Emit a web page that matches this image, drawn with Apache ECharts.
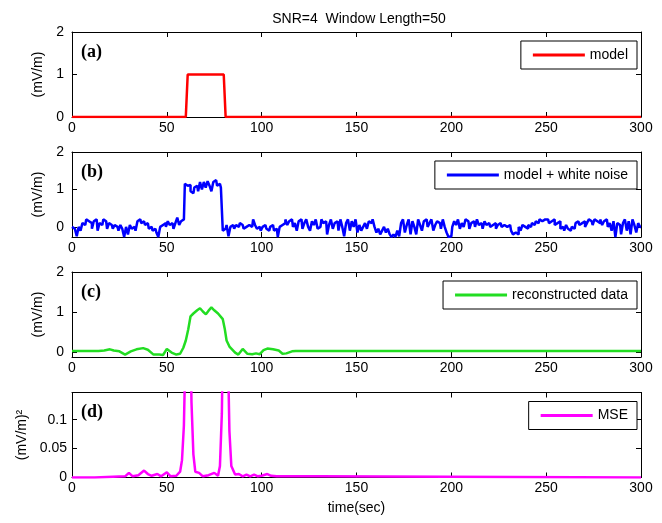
<!DOCTYPE html>
<html><head><meta charset="utf-8">
<script src="https://cdn.jsdelivr.net/npm/echarts@6/dist/echarts.min.js"></script>
<style>html,body{margin:0;padding:0;background:#fff}#c{width:662px;height:523px}</style>
</head><body><div id="c"></div>
<script>
// ---- data ----
const titleText = 'SNR=4  Window Length=50';
const xTicks = [0, 50, 100, 150, 200, 250, 300];
const panelLabels = ['(a)', '(b)', '(c)', '(d)'];
const seriesNames = ['model', 'model + white noise', 'reconstructed data', 'MSE'];

const modelT = [0, 60, 61, 80, 81, 300];
const modelV = [0, 0, 1, 1, 0, 0];

// model + white noise, one sample per second, t = 0..300
const noisyV = [
  0.0, -0.05, 0.0, -0.25, 0.0, -0.1, 0.1, 0.05, 0.2, 0.15,
  0.1, -0.05, 0.15, 0.2, -0.1, 0.1, 0.05, 0.2, 0.15, -0.05,
  0.1, 0.05, -0.05, 0.05, 0.0, -0.1, 0.05, -0.05, -0.27, 0.0,
  -0.2, 0.05, -0.05, 0.0, -0.1, 0.15, 0.2, 0.1, 0.15, 0.05,
  0.1, -0.05, 0.0, -0.1, -0.05, -0.15, -0.27, 0.0, 0.05, 0.1,
  0.0, 0.15, 0.05, 0.1, -0.05, 0.1, 0.25, 0.05, 0.15, 0.2,
  1.15, 1.1, 1.12, 0.95, 0.9, 1.05, 1.1, 0.95, 1.2, 1.0,
  1.2, 1.05, 1.22, 1.1, 0.95, 1.2, 1.25, 1.1, 1.15, 1.05,
  -0.1, -0.05, 0.05, -0.25, 0.0, 0.05, -0.05, 0.05, 0.0, 0.1,
  0.05, -0.05, 0.0, 0.05, 0.1, 0.0, 0.2, 0.05, -0.05, 0.0,
  -0.1, 0.0, 0.05, -0.05, -0.1, 0.0, 0.05, -0.1, -0.05, -0.27,
  0.0, 0.05, 0.1, 0.2, 0.05, 0.15, 0.2, 0.0, 0.1, -0.1,
  0.15, 0.2, -0.05, 0.1, 0.2, 0.0, -0.1, 0.15, 0.05, 0.2,
  -0.05, 0.0, 0.2, 0.1, 0.15, -0.2, 0.05, 0.2, -0.05, 0.1,
  0.15, -0.1, 0.2, 0.0, -0.25, 0.1, 0.2, -0.1, 0.15, 0.0,
  0.2, -0.15, 0.05, -0.1, 0.0, 0.1, -0.05, 0.15, 0.1, 0.2,
  0.0, -0.15, -0.05, -0.2, -0.1, 0.0, -0.15, -0.05, -0.2, -0.27,
  -0.2, -0.27, -0.1, -0.25, 0.1, 0.2, -0.15, 0.05, 0.2, -0.2,
  0.15, 0.0, -0.2, 0.2, 0.05, -0.1, 0.15, 0.2, 0.0, 0.1,
  0.2, -0.1, 0.05, 0.15, 0.1, -0.05, 0.2, 0.0, -0.15, -0.27,
  -0.25, 0.0, 0.15, 0.05, 0.2, -0.05, 0.1, 0.0, 0.2, 0.15,
  -0.05, 0.1, 0.15, 0.0, 0.2, 0.05, 0.1, -0.05, 0.15, 0.05,
  0.1, 0.0, 0.05, 0.1, -0.05, 0.05, 0.1, 0.0, 0.05, 0.0,
  -0.05, 0.05, -0.1, -0.2, -0.15, -0.2, 0.0, -0.1, 0.05, 0.0,
  -0.05, 0.05, 0.0, 0.1, 0.05, 0.15, 0.1, 0.2, 0.15, 0.2,
  0.15, 0.2, 0.1, 0.15, 0.2, 0.05, 0.1, 0.15, -0.05, 0.0,
  -0.1, 0.05, -0.05, -0.1, 0.0, -0.05, 0.1, 0.15, 0.05, 0.1,
  0.15, 0.0, 0.1, 0.2, 0.15, 0.05, 0.2, 0.15, 0.1, 0.2,
  0.05, 0.15, 0.2, 0.0, 0.1, -0.1, 0.15, -0.27, 0.1, 0.05,
  -0.2, 0.1, 0.2, -0.1, 0.15, -0.2, 0.2, 0.05, -0.15, 0.1, 0.0
];

const reconT = [0, 14, 15, 17, 20, 22, 25, 28, 31, 34, 37.5, 40, 43, 46, 48, 50, 52.5, 55, 57, 58.7,
  60, 61.3, 62.5, 64, 66, 67.5, 69, 70.6, 72, 73.5, 75, 77, 79.5, 80.5, 81.5, 83, 84, 86, 87.7,
  90, 92.5, 95, 97, 99, 101, 103, 106, 109, 111, 113, 116, 118, 300];
const reconV = [0.04, 0.04, 0.07, 0.05, 0.08, 0.05, 0.03, -0.05, 0.03, 0.08, 0.11, 0.07, -0.05, -0.05, -0.06, 0.09, 0.0, -0.05, -0.03, 0.12,
  0.3, 0.58, 0.9, 0.97, 1.05, 1.1, 1.02, 0.95, 1.04, 1.12, 1.05, 0.97, 0.83, 0.6, 0.3, 0.15, 0.1, 0.0, -0.05,
  0.09, -0.03, -0.04, -0.02, -0.04, 0.06, 0.1, 0.08, 0.05, -0.03, -0.02, 0.03, 0.04, 0.04];

const mseT = [0, 12, 12.5, 28, 30, 32, 35, 38, 40, 42, 45, 47, 50, 52, 55, 57, 58, 59, 60, 61, 62, 63, 64, 65,
  67, 69, 72, 75, 77, 78, 79, 80, 81, 82, 83, 84, 86, 88, 90, 92, 94, 96, 98, 100, 103, 105, 108, 130, 130.5, 300];
const mseV = [0, 0, 0.002, 0.002, 0.008, 0.002, 0.004, 0.012, 0.006, 0.003, 0.006, 0.002, 0.009, 0.002, 0.003, 0.01, 0.03, 0.09, 0.25, 0.45, 0.35, 0.13, 0.04, 0.01,
  0.008, 0.002, 0.004, 0.008, 0.003, 0.02, 0.11, 0.35, 0.45, 0.25, 0.08, 0.02, 0.005, 0.006, 0.002, 0.005, 0.002, 0.005, 0.002, 0.003, 0.006, 0.003, 0.002, 0.002, 0, 0];

const yRanges = [[0, 2], [-0.27, 2], [-0.11, 2], [0, 0.147]];
const yTicks = [[0, 1, 2], [0, 1, 2], [0, 1, 2], [0, 0.05, 0.1]];
const yNames = ['(mV/m)', '(mV/m)', '(mV/m)', '(mV/m)\u00B2'];
const colors = ['#ff0000', '#0000ff', '#22dd22', '#ff00ff'];

// ---- layout ----
const FONT = "'Liberation Sans', Arial, sans-serif";
const tops = [32, 152, 272, 392.5];
const H = 85;

const pairs = (xs, ys) => xs.map((x, i) => [x, ys[i]]);
const seriesData = [
  pairs(modelT, modelV),
  noisyV.map((v, i) => [i, v]),
  pairs(reconT, reconV),
  pairs(mseT, mseV)
];

const grids = [], xAxes = [], yAxes = [], series = [], legends = [], graphics = [];
tops.forEach((top, i) => {
  grids.push({ left: 72, right: 21, top: top, height: H });
  const axisLine = { show: true, onZero: false, lineStyle: { color: '#000', width: 1 } };
  const tick = { show: true, inside: true, length: 5, lineStyle: { color: '#000' } };
  xAxes.push({
    gridIndex: i, type: 'value', position: 'bottom', min: 0, max: 300, interval: 50,
    axisLine, axisTick: tick, splitLine: { show: false },
    axisLabel: { color: '#000', fontSize: 14, fontFamily: FONT, margin: 4, showMaxLabel: true, showMinLabel: true },
    name: i === 3 ? 'time(sec)' : '', nameLocation: 'middle', nameGap: 24,
    nameTextStyle: { color: '#000', fontSize: 14, fontFamily: FONT }
  });
  xAxes.push({
    gridIndex: i, type: 'value', position: 'top', min: 0, max: 300, interval: 50,
    axisLine, axisTick: tick, axisLabel: { show: false }, splitLine: { show: false }
  });
  yAxes.push({
    gridIndex: i, type: 'value', position: 'left', min: yRanges[i][0], max: yRanges[i][1],
    axisLine, axisTick: Object.assign({}, tick, { customValues: yTicks[i] }), splitLine: { show: false },
    axisLabel: { color: '#000', fontSize: 14, fontFamily: FONT, margin: i === 3 ? 5 : 8, customValues: yTicks[i] },
    name: yNames[i], nameLocation: 'middle', nameRotate: 90, nameGap: i === 3 ? 34 : 22,
    nameTextStyle: { color: '#000', fontSize: 14, fontFamily: FONT }
  });
  yAxes.push({
    gridIndex: i, type: 'value', position: 'right', min: yRanges[i][0], max: yRanges[i][1],
    axisLine, axisTick: Object.assign({}, tick, { customValues: yTicks[i] }), splitLine: { show: false },
    axisLabel: { show: false, customValues: yTicks[i] }
  });
  series.push({
    name: seriesNames[i], type: 'line', xAxisIndex: 2 * i, yAxisIndex: 2 * i,
    data: seriesData[i], symbol: 'none', showSymbol: false, clip: true,
    step: i === 1 ? 'middle' : false,
    lineStyle: { color: colors[i], width: 2.5 }, itemStyle: { color: colors[i] }
  });
  legends.push({
    data: [seriesNames[i]], right: 25, top: top + 9, orient: 'horizontal',
    icon: 'rect', itemWidth: 52, itemHeight: 3,
    padding: [7, 9, 7, 12], borderColor: '#000', borderWidth: 1, backgroundColor: '#fff',
    textStyle: { color: '#000', fontSize: 14, fontFamily: FONT }
  });
  graphics.push({
    type: 'text', left: 81, top: top + 11,
    style: { text: panelLabels[i], font: "bold 18px 'Liberation Serif', 'Times New Roman', serif", fill: '#000' }
  });
});

const option = {
  animation: false,
  backgroundColor: '#fff',
  title: {
    text: titleText, left: 354, top: 7, textAlign: 'center',
    textStyle: { color: '#000', fontSize: 14, fontWeight: 'normal', fontFamily: FONT }
  },
  grid: grids, xAxis: xAxes, yAxis: yAxes, series: series, legend: legends,
  graphic: graphics
};
const chart = echarts.init(document.getElementById('c'), null, { renderer: 'canvas' });
chart.setOption(option);
</script></body></html>
